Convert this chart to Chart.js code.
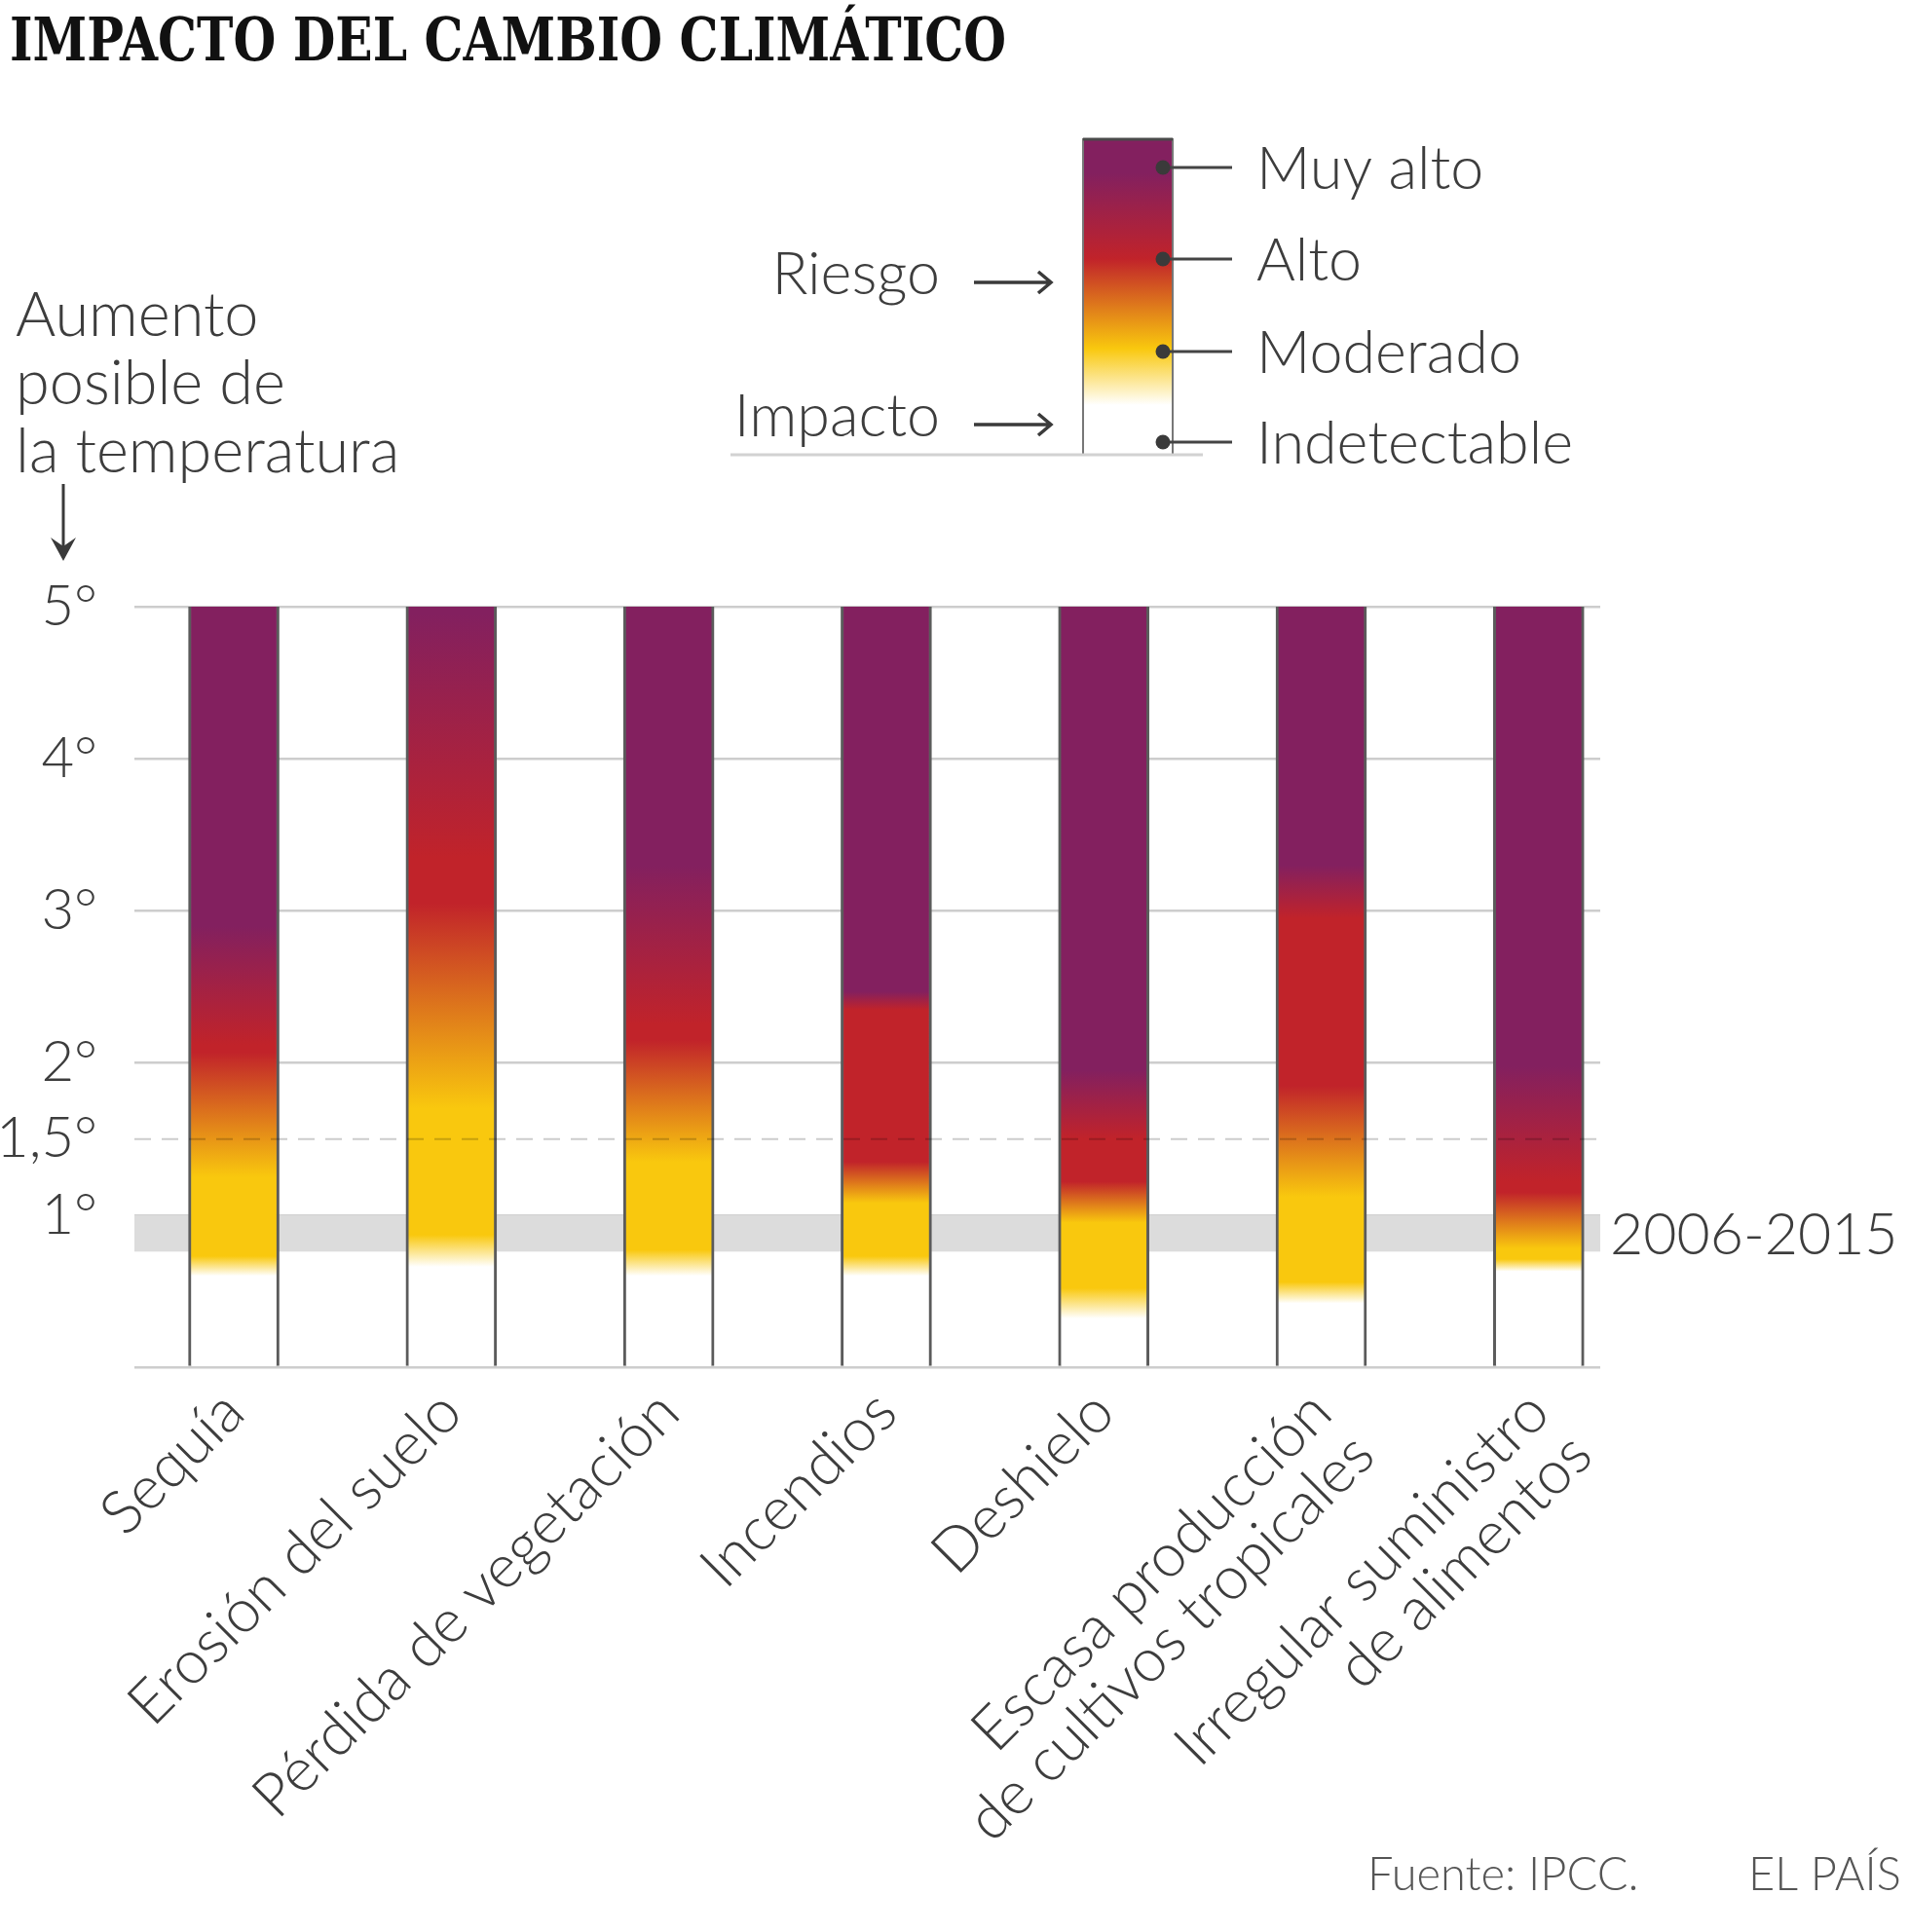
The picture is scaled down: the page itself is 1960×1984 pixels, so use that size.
<!DOCTYPE html>
<html lang="es">
<head>
<meta charset="utf-8">
<title>Impacto del cambio climático</title>
<script src="https://cdn.jsdelivr.net/npm/chart.js@4.4.1/dist/chart.umd.min.js"></script>
<style>
  html, body { margin: 0; padding: 0; background: #fff; }
  #chart { display: block; }
</style>
</head>
<body>
<canvas id="chart" width="1960" height="1984"></canvas>
<script>
// categories (multi-line labels)
const categories = [
    ['Sequía'],
    ['Erosión del suelo'],
    ['Pérdida de vegetación'],
    ['Incendios'],
    ['Deshielo'],
    ['Escasa producción', 'de cultivos tropicales'],
    ['Irregular suministro', 'de alimentos']
];

// temperature (°C) where each impact level begins / ends
const impactStart   = [0.60, 0.66, 0.60, 0.60, 0.32, 0.42, 0.63]; // end of "indetectable"
const moderateStart = [0.73, 0.87, 0.77, 0.73, 0.52, 0.56, 0.71];
const moderateEnd   = [1.25, 1.70, 1.35, 1.08, 0.95, 1.12, 0.78];
const highStart     = [2.07, 3.05, 2.15, 1.35, 1.22, 1.85, 1.15];
const highEnd       = [2.12, 3.35, 2.25, 2.35, 1.50, 2.95, 1.22];
const veryHighStart = [2.90, 4.95, 3.30, 2.47, 1.95, 3.30, 1.98];
const tempMax = 5;

const yTicks = [0, 1, 1.5, 2, 3, 4, 5];
const observedBand = [0.76, 1.0];   // 2006-2015
const observedLabel = '2006-2015';
const legendLevels = ['Muy alto', 'Alto', 'Moderado', 'Indetectable'];

const WHITE = '#ffffff', YELLOW = '#f9c80e', RED = '#c1232a', PURPLE = '#83205f';
const TEXT = '#3d3d3d';

Chart.defaults.font.family = 'Lato';
Chart.defaults.font.weight = 300;

function barGradient(chart, i) {
    const y = chart.scales.y;
    const g = chart.ctx.createLinearGradient(0, y.getPixelForValue(0), 0, y.getPixelForValue(tempMax));
    const stops = [
        [0, WHITE], [impactStart[i], WHITE],
        [moderateStart[i], YELLOW], [moderateEnd[i], YELLOW],
        [highStart[i], RED], [highEnd[i], RED],
        [veryHighStart[i], PURPLE], [tempMax, PURPLE]
    ];
    stops.forEach(([v, c]) => g.addColorStop(Math.min(v / tempMax, 1), c));
    return g;
}

function arrowRight(ctx, x0, x1, y) {
    ctx.beginPath();
    ctx.moveTo(x0, y); ctx.lineTo(x1, y);
    ctx.moveTo(x1 - 13, y - 11); ctx.lineTo(x1, y); ctx.lineTo(x1 - 13, y + 11);
    ctx.stroke();
}

const decor = {
    id: 'decor',
    beforeDatasetsDraw(chart) {
        const {ctx, scales: {x, y}} = chart;
        const top = y.getPixelForValue(observedBand[1]);
        const bot = y.getPixelForValue(observedBand[0]);
        ctx.save();
        ctx.fillStyle = '#dcdcdc';
        ctx.fillRect(x.left, top, x.right - x.left, bot - top);
        ctx.restore();
    },
    afterDatasetsDraw(chart) {
        const {ctx, scales: {x, y}} = chart;
        const py = y.getPixelForValue(1.5);
        ctx.save();
        ctx.strokeStyle = 'rgba(0,0,0,0.2)';
        ctx.lineWidth = 2;
        ctx.setLineDash([17, 11]);
        ctx.beginPath();
        ctx.moveTo(x.left, py); ctx.lineTo(x.right, py);
        ctx.stroke();
        ctx.restore();
    },
    afterDraw(chart) {
        const {ctx, scales: {x, y}} = chart;
        ctx.save();

        // title, squeezed to the width of the original
        ctx.fillStyle = '#111';
        ctx.font = 'bold 62px "DejaVu Serif Condensed", "DejaVu Serif"';
        ctx.textBaseline = 'alphabetic';
        const title = 'IMPACTO DEL CAMBIO CLIMÁTICO';
        const tw = ctx.measureText(title).width;
        ctx.save();
        ctx.translate(10, 62);
        ctx.scale(1023 / tw, 1);
        ctx.fillText(title, 0, 0);
        ctx.restore();

        // axis caption
        ctx.fillStyle = TEXT;
        ctx.font = '300 63px Lato';
        ctx.textAlign = 'left';
        ['Aumento', 'posible de', 'la temperatura'].forEach((t, k) => ctx.fillText(t, 16, 345 + k * 70));
        ctx.strokeStyle = '#3a3a3a';
        ctx.lineWidth = 3;
        ctx.beginPath(); ctx.moveTo(65, 497); ctx.lineTo(65, 570); ctx.stroke();
        ctx.fillStyle = '#3a3a3a';
        ctx.beginPath();
        ctx.moveTo(52, 552); ctx.lineTo(65, 576); ctx.lineTo(78, 552); ctx.lineTo(65, 561);
        ctx.closePath(); ctx.fill();

        // legend scale
        const lx = 1112, lw = 92, lt = 142, lb = 467;
        const dots = [172, 266, 361, 454];
        const g = ctx.createLinearGradient(0, lt, 0, lb);
        const f = v => (v - lt) / (lb - lt);
        g.addColorStop(0, PURPLE); g.addColorStop(f(178), PURPLE);
        g.addColorStop(f(266), RED); g.addColorStop(f(358), YELLOW);
        g.addColorStop(f(416), WHITE); g.addColorStop(1, WHITE);
        ctx.fillStyle = g;
        ctx.fillRect(lx, lt, lw, lb - lt);
        ctx.strokeStyle = '#777';
        ctx.lineWidth = 2;
        ctx.beginPath();
        ctx.moveTo(lx, lt); ctx.lineTo(lx, lb);
        ctx.moveTo(lx + lw, lt); ctx.lineTo(lx + lw, lb);
        ctx.stroke();
        ctx.strokeStyle = '#4a4a4a';
        ctx.lineWidth = 3;
        ctx.beginPath(); ctx.moveTo(lx, lt + 1); ctx.lineTo(lx + lw, lt + 1); ctx.stroke();
        ctx.strokeStyle = '#d2d2d2';
        ctx.beginPath(); ctx.moveTo(750, lb); ctx.lineTo(1235, lb); ctx.stroke();

        ctx.font = '300 61px Lato';
        ctx.fillStyle = TEXT;
        legendLevels.forEach((t, k) => {
            ctx.strokeStyle = '#444';
            ctx.lineWidth = 3;
            ctx.beginPath(); ctx.moveTo(1194, dots[k]); ctx.lineTo(1265, dots[k]); ctx.stroke();
            ctx.fillStyle = '#3a3a3a';
            ctx.beginPath(); ctx.arc(1194, dots[k], 7.5, 0, Math.PI * 2); ctx.fill();
            ctx.fillStyle = TEXT;
            ctx.fillText(t, 1290, dots[k] + 22);
        });
        ctx.textAlign = 'right';
        ctx.fillText('Riesgo', 965, 302);
        ctx.fillText('Impacto', 965, 448);
        ctx.strokeStyle = '#3a3a3a';
        ctx.lineWidth = 3.5;
        arrowRight(ctx, 1000, 1079, 290);
        arrowRight(ctx, 1000, 1079, 436);

        // observed period label
        ctx.textAlign = 'left';
        ctx.textBaseline = 'middle';
        ctx.font = '300 59px Lato';
        ctx.fillStyle = TEXT;
        const bandMid = (y.getPixelForValue(observedBand[0]) + y.getPixelForValue(observedBand[1])) / 2;
        ctx.fillText(observedLabel, x.right + 10, bandMid + 2);

        // source
        ctx.textBaseline = 'alphabetic';
        ctx.font = '300 47px Lato';
        ctx.fillStyle = '#555';
        ctx.fillText('Fuente: IPCC.', 1404, 1941);
        ctx.fillText('EL PAÍS', 1795, 1941);
        ctx.restore();
    }
};

new Chart(document.getElementById('chart'), {
    type: 'bar',
    data: {
        datasets: [{
            data: categories.map((c, i) => ({x: i, y: tempMax})),
            backgroundColor: ctx => ctx.chart.chartArea ? barGradient(ctx.chart, ctx.dataIndex) : WHITE,
            borderColor: '#5b5b5b',
            borderWidth: {left: 3, right: 3, top: 0, bottom: 0},
            borderSkipped: false,
            barThickness: 93
        }]
    },
    options: {
        responsive: false,
        animation: false,
        devicePixelRatio: 1,
        layout: {padding: {top: 623, right: 317, bottom: 0, left: 0}},
        plugins: {legend: {display: false}, tooltip: {enabled: false}},
        scales: {
            x: {
                type: 'linear',
                offset: false,
                min: -0.457,
                max: 6.283,
                grid: {display: false, drawTicks: false, offset: false},
                border: {display: false},
                afterBuildTicks: s => { s.ticks = categories.map((c, i) => ({value: i})); },
                afterFit: s => { s.height = 1984 - 1404; s.paddingLeft = 0; s.paddingRight = 0; },
                ticks: {
                    autoSkip: false,
                    minRotation: 45,
                    maxRotation: 45,
                    padding: 14,
                    color: TEXT,
                    font: {size: 62, lineHeight: 1.0},
                    callback: v => categories[v]
                }
            },
            y: {
                min: 0,
                max: tempMax,
                z: 1,
                border: {display: false},
                grid: {
                    drawTicks: false,
                    lineWidth: 2.5,
                    color: c => c.tick && c.tick.value === 1.5 ? 'rgba(0,0,0,0)' : 'rgba(196,196,196,0.85)'
                },
                afterBuildTicks: s => { s.ticks = yTicks.map(v => ({value: v})); },
                afterFit: s => { s.width = 138; s.paddingTop = 0; s.paddingBottom = 0; },
                ticks: {
                    padding: 38,
                    color: TEXT,
                    font: {size: 58},
                    callback: v => v === 0 ? '' : String(v).replace('.', ',') + '°'
                }
            }
        }
    },
    plugins: [decor]
});
</script>
</body>
</html>
